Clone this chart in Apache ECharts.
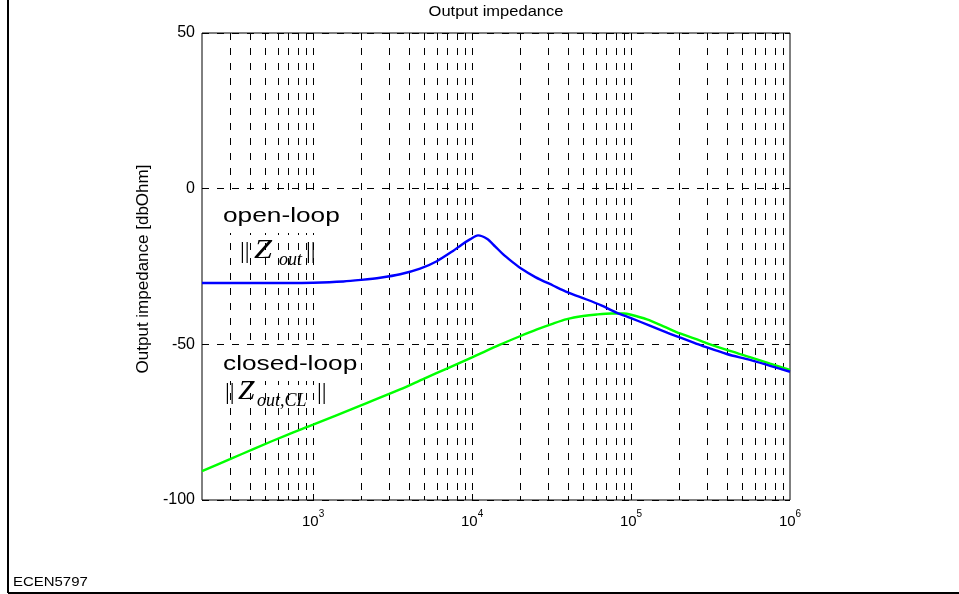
<!DOCTYPE html>
<html>
<head>
<meta charset="utf-8">
<script src="https://cdn.jsdelivr.net/npm/echarts@6/dist/echarts.min.js"></script>
<style>
html,body{margin:0;padding:0;background:#fff;}
#chart{width:959px;height:594px;}
</style>
</head>
<body>
<div id="chart"></div>
<script>
// ---- data ----
const freqOpen = [200, 400, 700, 1000, 1550, 2000, 2640, 3530, 4710, 6000, 7590, 8600, 9700, 10900, 12400, 14000, 15700, 18000, 20000, 25000, 32300, 40000, 52600, 65000, 81000, 100000, 130000, 170000, 203000, 250000, 300000, 400000, 560000, 750000, 1000000];
const zOpen = [-30.3, -30.3, -30.3, -30.2, -29.8, -29.3, -28.6, -27.5, -25.7, -23.3, -20.0, -18.0, -16.3, -15.0, -16.1, -18.6, -21.1, -23.6, -25.4, -28.4, -31.1, -33.3, -35.6, -37.5, -39.8, -41.6, -43.9, -46.3, -47.8, -49.5, -51.0, -53.1, -55.0, -56.9, -58.8];
const freqClosed = [200, 300, 431, 700, 1000, 2000, 3525, 5000, 7000, 10000, 15000, 20000, 25600, 32000, 39500, 50000, 60800, 75000, 90000, 100000, 126000, 160000, 203000, 272000, 314000, 400000, 560000, 750000, 1000000];
const zClosed = [-90.7, -86.9, -83.4, -78.9, -75.8, -69.6, -64.5, -61.0, -57.7, -54.2, -50.1, -47.4, -45.2, -43.4, -41.9, -40.9, -40.4, -40.1, -40.1, -40.5, -42.0, -44.2, -46.5, -48.8, -50.0, -51.8, -54.1, -56.2, -58.2];
const yTicks = [-100, -50, 0, 50];
const decadeTicks = [1000, 10000, 100000, 1000000];
const minorMultipliers = [2, 3, 4, 5, 6, 7, 8, 9];
const xMin = 200, xMax = 1000000;

// grid line / tick positions on the log axis
const tickFreqs = [];
[100, 1000, 10000, 100000].forEach(function (d) {
  minorMultipliers.forEach(function (m) {
    const f = d * m;
    if (f > xMin && f < xMax) tickFreqs.push([f, 0]);
  });
});
decadeTicks.forEach(function (f) { if (f < xMax) tickFreqs.push([f, 1]); });

function isDecade(v) {
  const l = Math.log10(v);
  return Math.abs(l - Math.round(l)) < 1e-6;
}

const chart = echarts.init(document.getElementById('chart'), null, {renderer: 'canvas'});
const sans = 'Liberation Sans, Arial, sans-serif';
const serif = 'Liberation Serif, Times New Roman, serif';

const option = {
  backgroundColor: '#ffffff',
  animation: false,
  grid: {left: 202, right: 169, top: 33, bottom: 94, show: true, borderColor: '#000', borderWidth: 1, backgroundColor: 'transparent'},
  xAxis: {
    type: 'log', logBase: 10, min: xMin, max: xMax,
    axisLine: {show: false},
    axisTick: {show: false},
    splitLine: {show: false},
    minorTick: {show: false},
    axisLabel: {
      margin: 9,
      formatter: function (v) {
        if (!isDecade(v)) return '';
        return '{b|10}{s|' + Math.round(Math.log10(v)) + '}';
      },
      rich: {
        b: {fontFamily: sans, fontSize: 15, color: '#000', lineHeight: 26},
        s: {fontFamily: sans, fontSize: 10, color: '#000', lineHeight: 10, verticalAlign: 'top'}
      }
    }
  },
  yAxis: [{
    type: 'value', min: yTicks[0], max: yTicks[yTicks.length - 1], interval: 50,
    axisLine: {show: false},
    axisTick: {show: true, inside: true, length: 5, lineStyle: {color: '#000'}},
    axisLabel: {margin: 7, fontFamily: sans, fontSize: 16, color: '#000'},
    splitLine: {show: true, lineStyle: {color: '#000', width: 1, type: [7, 8]}}
  }, {
    type: 'value', position: 'right', min: yTicks[0], max: yTicks[yTicks.length - 1], interval: 50,
    axisLine: {show: false},
    axisTick: {show: true, inside: true, length: 5, lineStyle: {color: '#000'}},
    axisLabel: {show: false},
    splitLine: {show: false}
  }],
  series: [{
    type: 'custom',
    z: 1,
    silent: true,
    data: tickFreqs,
    encode: {x: 0, y: 1},
    renderItem: function (params, api) {
      const f = api.value(0);
      const major = api.value(1);
      const p = api.coord([f, 0]);
      const x = Math.round(p[0]) + 0.5;
      const cs = params.coordSys;
      const top = cs.y, bot = cs.y + cs.height;
      const len = major ? 6 : 4;
      return {
        type: 'group',
        children: [
          {type: 'line', shape: {x1: x, y1: top, x2: x, y2: bot}, style: {stroke: '#000', lineWidth: 1, lineDash: [7, 8]}},
          {type: 'line', shape: {x1: x, y1: bot, x2: x, y2: bot - len}, style: {stroke: '#000', lineWidth: 1}},
          {type: 'line', shape: {x1: x, y1: top, x2: x, y2: top + len}, style: {stroke: '#000', lineWidth: 1}}
        ]
      };
    }
  }, {
    type: 'line', name: 'closed-loop', z: 3,
    data: freqClosed.map(function (f, i) { return [f, zClosed[i]]; }),
    showSymbol: false, smooth: 0.3,
    lineStyle: {color: '#00ff00', width: 2.4},
    itemStyle: {color: '#00ff00'}
  }, {
    type: 'line', name: 'open-loop', z: 4,
    data: freqOpen.map(function (f, i) { return [f, zOpen[i]]; }),
    showSymbol: false, smooth: 0.3,
    lineStyle: {color: '#0000ff', width: 2.4},
    itemStyle: {color: '#0000ff'}
  }],
  graphic: [
    // outer figure frame (left + bottom)
    {type: 'line', shape: {x1: 8, y1: 0, x2: 8, y2: 593}, style: {stroke: '#000', lineWidth: 2}},
    {type: 'line', shape: {x1: 8, y1: 593, x2: 959, y2: 593}, style: {stroke: '#000', lineWidth: 2}},
    // title
    {type: 'text', x: 496, y: 12, scaleX: 1.1, style: {text: 'Output impedance', fontFamily: sans, fontSize: 15, fill: '#000', align: 'center', verticalAlign: 'middle'}},
    // y-axis name
    {type: 'text', x: 143.5, y: 269, rotation: Math.PI / 2, style: {text: 'Output impedance [dbOhm]', fontFamily: sans, fontSize: 17, fill: '#000', align: 'center', verticalAlign: 'middle'}},
    // footer
    {type: 'text', x: 13, y: 582, scaleX: 1.15, style: {text: 'ECEN5797', fontFamily: sans, fontSize: 13, fill: '#000', align: 'left', verticalAlign: 'middle'}},
    // white backgrounds behind the labels
    {type: 'rect', z: 2, shape: {x: 209, y: 197, width: 138, height: 36}, style: {fill: '#fff'}},
    {type: 'rect', z: 2, shape: {x: 209, y: 345, width: 148, height: 36}, style: {fill: '#fff'}},
    // annotations
    {type: 'text', x: 223, y: 216, scaleX: 1.25, z: 10, style: {text: 'open-loop', fontFamily: sans, fontSize: 21, fill: '#000', align: 'left', verticalAlign: 'middle'}},
    {type: 'text', x: 240, y: 252, z: 10, style: {text: '||', fontFamily: serif, fontSize: 24, fill: '#000', align: 'left', verticalAlign: 'middle'}},
    {type: 'text', x: 254, y: 251, z: 10, scaleX: 1.2, style: {text: 'Z', fontFamily: serif, fontStyle: 'italic', fontSize: 27, fill: '#000', align: 'left', verticalAlign: 'middle'}},
    {type: 'text', x: 279, y: 260.5, z: 10, style: {text: 'out', fontFamily: serif, fontStyle: 'italic', fontSize: 18, fill: '#000', align: 'left', verticalAlign: 'middle'}},
    {type: 'text', x: 306, y: 252, z: 10, style: {text: '||', fontFamily: serif, fontSize: 24, fill: '#000', align: 'left', verticalAlign: 'middle'}},

    {type: 'text', x: 223, y: 364, scaleX: 1.25, z: 10, style: {text: 'closed-loop', fontFamily: sans, fontSize: 21, fill: '#000', align: 'left', verticalAlign: 'middle'}},
    {type: 'text', x: 225, y: 393, z: 10, style: {text: '||', fontFamily: serif, fontSize: 24, fill: '#000', align: 'left', verticalAlign: 'middle'}},
    {type: 'text', x: 238, y: 392, z: 10, scaleX: 1.1, style: {text: 'Z', fontFamily: serif, fontStyle: 'italic', fontSize: 27, fill: '#000', align: 'left', verticalAlign: 'middle'}},
    {type: 'text', x: 257, y: 401, z: 10, style: {text: 'out,CL', fontFamily: serif, fontStyle: 'italic', fontSize: 18, fill: '#000', align: 'left', verticalAlign: 'middle'}},
    {type: 'text', x: 317, y: 393, z: 10, style: {text: '||', fontFamily: serif, fontSize: 24, fill: '#000', align: 'left', verticalAlign: 'middle'}}
  ]
};
chart.setOption(option);
</script>
</body>
</html>
